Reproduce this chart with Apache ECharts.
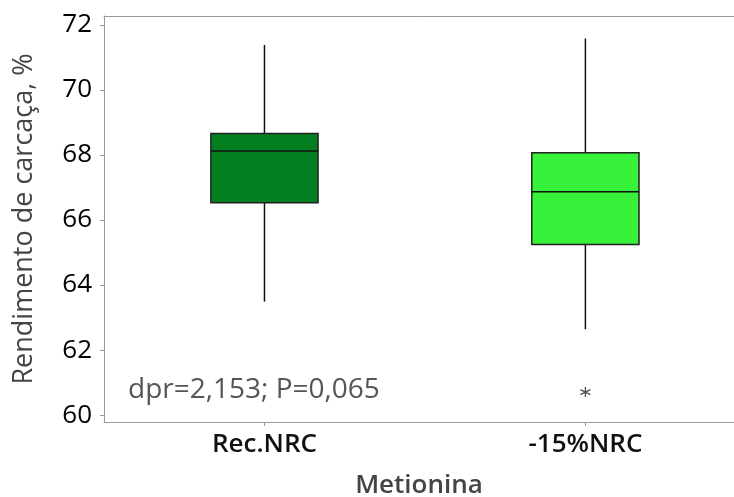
<!DOCTYPE html>
<html>
<head>
<meta charset="utf-8">
<script src="https://cdn.jsdelivr.net/npm/echarts@6/dist/echarts.min.js"></script>
<style>
  html, body { margin: 0; padding: 0; background: #fff; }
  #chart { width: 734px; height: 497px; }
</style>
</head>
<body>
<div id="chart"></div>
<script>
// categorias e valores
var categories = ['Rec.NRC', '-15%NRC'];
// [min, Q1, mediana, Q3, max]
var boxValues = [
  [63.49, 66.53, 68.12, 68.66, 71.38],
  [62.64, 65.25, 66.87, 68.07, 71.58]
];
var boxColors = ['#047F20', '#37F13A'];
var outliers = [[1, 60.71]];
var yTicks = [60, 62, 64, 66, 68, 70, 72];
var note = 'dpr=2,153; P=0,065';

var myChart = echarts.init(document.getElementById('chart'));

var fontFam = '"Open Sans", "Noto Sans", sans-serif';
// o painel original continua além da borda direita da imagem
var xMin = -0.5, xMax = 1.463;

var option = {
  backgroundColor: '#fff',
  animation: false,
  grid: {
    left: 104,
    right: 0,
    top: 16,
    bottom: 75,
    outerBoundsMode: 'none'
  },
  xAxis: [
    {
      type: 'value',
      min: xMin,
      max: xMax,
      name: 'Metionina',
      nameLocation: 'middle',
      nameGap: 51,
      nameTextStyle: { fontFamily: fontFam, fontSize: 26, fontWeight: 600, color: '#444' },
      axisLine: { show: true, onZero: false, lineStyle: { color: '#999' } },
      axisTick: { show: true, length: 4, customValues: [0, 1], lineStyle: { color: '#999' } },
      axisLabel: {
        fontFamily: fontFam, fontSize: 26, fontWeight: 600, color: '#111', margin: 10,
        customValues: [0, 1],
        formatter: function (v) { return categories[Math.round(v)]; }
      },
      splitLine: { show: false }
    },
    {
      // linha superior do painel
      type: 'value',
      position: 'top',
      min: xMin,
      max: xMax,
      axisLine: { show: true, onZero: false, lineStyle: { color: '#999' } },
      axisTick: { show: false },
      axisLabel: { show: false },
      splitLine: { show: false }
    }
  ],
  yAxis: {
    type: 'value',
    min: 59.79,
    max: 72.27,
    name: 'Rendimento de carcaça, %',
    nameLocation: 'middle',
    nameGap: 66,
    nameTextStyle: { fontFamily: fontFam, fontSize: 27, color: '#444' },
    axisLine: { show: true, onZero: false, lineStyle: { color: '#999' } },
    axisTick: { show: true, length: 4, customValues: yTicks, lineStyle: { color: '#999' } },
    axisLabel: { fontFamily: fontFam, fontSize: 26, color: '#000', margin: 12, customValues: yTicks },
    splitLine: { show: false }
  },
  graphic: [{
    type: 'text',
    x: 128,
    y: 390,
    style: { text: note, fontFamily: fontFam, fontSize: 28, fill: '#555', verticalAlign: 'middle' }
  }],
  series: [
    {
      type: 'custom',
      data: boxValues.map(function (v, i) { return [i].concat(v); }),
      encode: { x: 0, y: [1, 2, 3, 4, 5] },
      renderItem: function (params, api) {
        var idx = api.value(0);
        var pMin = api.coord([idx, api.value(1)]);
        var pQ1 = api.coord([idx, api.value(2)]);
        var pMed = api.coord([idx, api.value(3)]);
        var pQ3 = api.coord([idx, api.value(4)]);
        var pMax = api.coord([idx, api.value(5)]);
        var halfW = api.size([1, 0])[0] * 0.167;
        var cx = pMed[0];
        var lineStyle = { stroke: '#111', lineWidth: 1.5 };
        return {
          type: 'group',
          children: [
            { type: 'line', shape: { x1: cx, y1: pMax[1], x2: cx, y2: pQ3[1] }, style: lineStyle },
            { type: 'line', shape: { x1: cx, y1: pQ1[1], x2: cx, y2: pMin[1] }, style: lineStyle },
            { type: 'rect', shape: { x: cx - halfW, y: pQ3[1], width: halfW * 2, height: pQ1[1] - pQ3[1] },
              style: { fill: boxColors[idx], stroke: '#222', lineWidth: 1.5 } },
            { type: 'line', shape: { x1: cx - halfW, y1: pMed[1], x2: cx + halfW, y2: pMed[1] }, style: lineStyle }
          ]
        };
      }
    },
    {
      type: 'scatter',
      data: outliers,
      symbol: 'path://M0,-1L0,1M-0.87,-0.5L0.87,0.5M-0.87,0.5L0.87,-0.5',
      symbolSize: 10,
      itemStyle: { color: 'transparent', borderColor: '#222', borderWidth: 1.3 }
    }
  ]
};

myChart.setOption(option);
</script>
</body>
</html>
